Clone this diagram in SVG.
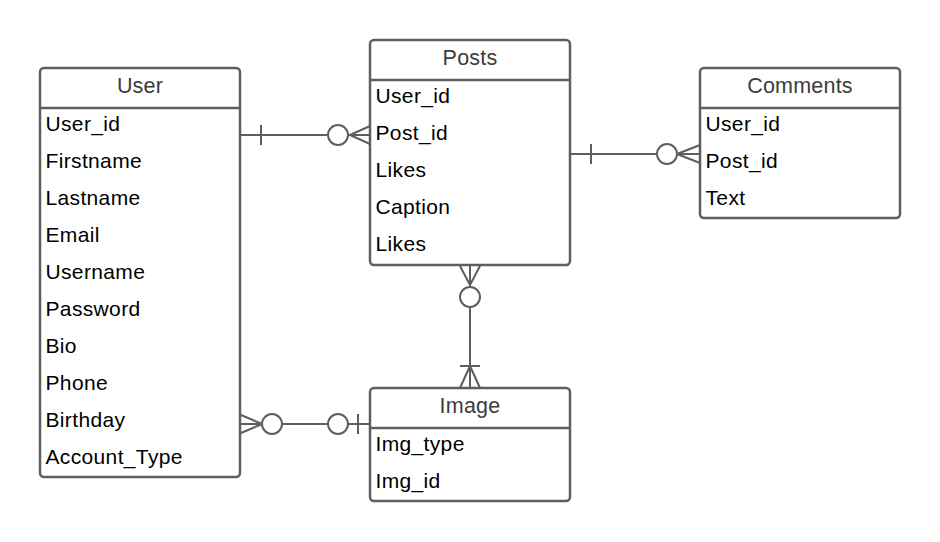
<svg xmlns="http://www.w3.org/2000/svg" width="940" height="542" viewBox="0 0 940 542">
<style>
.box{fill:#fff;stroke:#5e5e5e;stroke-width:2.5}
.sep{stroke:#5e5e5e;stroke-width:2.5}
.hd{font-family:"Liberation Sans",Arial,sans-serif;font-size:21.5px;letter-spacing:0.2px;fill:#3c3c3c;text-anchor:middle}
.fd{font-family:"Liberation Sans",Arial,sans-serif;font-size:21px;letter-spacing:0.35px;fill:#000}
.cn{fill:none;stroke:#5e5e5e;stroke-width:2}
</style>
<rect width="940" height="542" fill="#fff"/>
<g id="connectors">
  <path class="cn" d="M240 135H370M261 125V145M350 135L370 126M350 135L370 144M348 135H370"/>
  <circle class="cn" cx="338" cy="135" r="10" style="fill:#fff"/>
  <path class="cn" d="M570 154H700M591 144V164M677 154L700 145M677 154L700 163"/>
  <circle class="cn" cx="667" cy="154" r="10" style="fill:#fff"/>
  <path class="cn" d="M470 265V388M460 266L470 285M480 266L470 285M460 366H480M470 366L460 388M470 366L480 388"/>
  <circle class="cn" cx="470" cy="297" r="10" style="fill:#fff"/>
  <path class="cn" d="M240 424H370M241 415L262 424M241 433L262 424M358 414V434"/>
  <circle class="cn" cx="272" cy="424" r="10" style="fill:#fff"/>
  <circle class="cn" cx="338" cy="424" r="10" style="fill:#fff"/>
</g>
<g id="user">
  <rect class="box" x="40" y="68" width="200" height="409" rx="4"/>
  <line class="sep" x1="40" y1="108" x2="240" y2="108"/>
  <text class="hd" x="140" y="92.5">User</text>
  <text class="fd" x="45.5" y="131">User_id</text>
  <text class="fd" x="45.5" y="168">Firstname</text>
  <text class="fd" x="45.5" y="205">Lastname</text>
  <text class="fd" x="45.5" y="242">Email</text>
  <text class="fd" x="45.5" y="279">Username</text>
  <text class="fd" x="45.5" y="316">Password</text>
  <text class="fd" x="45.5" y="353">Bio</text>
  <text class="fd" x="45.5" y="390">Phone</text>
  <text class="fd" x="45.5" y="427">Birthday</text>
  <text class="fd" x="45.5" y="464">Account_Type</text>
</g>
<g id="posts">
  <rect class="box" x="370" y="40" width="200" height="225" rx="4"/>
  <line class="sep" x1="370" y1="80" x2="570" y2="80"/>
  <text class="hd" x="470" y="64.5">Posts</text>
  <text class="fd" x="375.5" y="103">User_id</text>
  <text class="fd" x="375.5" y="140">Post_id</text>
  <text class="fd" x="375.5" y="177">Likes</text>
  <text class="fd" x="375.5" y="214">Caption</text>
  <text class="fd" x="375.5" y="251">Likes</text>
</g>
<g id="comments">
  <rect class="box" x="700" y="68" width="200" height="150" rx="4"/>
  <line class="sep" x1="700" y1="108" x2="900" y2="108"/>
  <text class="hd" x="800" y="92.5">Comments</text>
  <text class="fd" x="705.5" y="131">User_id</text>
  <text class="fd" x="705.5" y="168">Post_id</text>
  <text class="fd" x="705.5" y="205">Text</text>
</g>
<g id="image">
  <rect class="box" x="370" y="388" width="200" height="113" rx="4"/>
  <line class="sep" x1="370" y1="428" x2="570" y2="428"/>
  <text class="hd" x="470" y="412.5">Image</text>
  <text class="fd" x="375.5" y="451">Img_type</text>
  <text class="fd" x="375.5" y="488">Img_id</text>
</g>
</svg>
